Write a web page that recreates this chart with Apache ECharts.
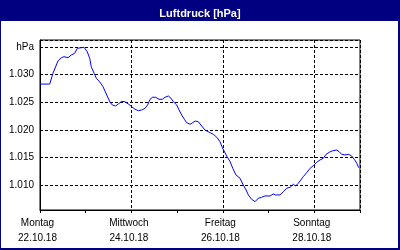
<!DOCTYPE html>
<html>
<head>
<meta charset="utf-8">
<script src="https://cdn.jsdelivr.net/npm/echarts@6/dist/echarts.min.js"></script>
<style>html,body{margin:0;padding:0;background:#000080}#c{width:400px;height:250px}</style>
</head>
<body>
<div id="c"></div>
<script>
const titleText = 'Luftdruck [hPa]';
const dayNames = ['Montag','Dienstag','Mittwoch','Donnerstag','Freitag','Samstag','Sonntag'];
const dayDates = ['22.10.18','23.10.18','24.10.18','25.10.18','26.10.18','27.10.18','28.10.18'];
const yUnitLabel = 'hPa';
// hours since Monday 22.10.18 00:00
const hours = [0,5.1,6.8,9.5,11.2,12.6,14.7,16.4,18.2,19.6,20.3,23.1,24.8,26.1,26.9,28.4,29.6,31.3,33.1,34.8,35.5,36.8,38.0,39.7,41.1,42.9,44.6,46.4,48.1,49.9,51.6,53.4,55.1,56.5,57.8,59.0,60.7,62.5,64.2,65.6,67.4,68.8,70.0,71.8,73.0,74.4,75.8,77.0,78.8,80.2,81.4,83.1,84.9,86.6,89.3,91.0,92.8,94.5,95.9,98.0,99.8,101.2,102.9,105.0,106.7,108.2,109.4,111.1,112.9,114.6,116.4,118.1,119.0,120.8,122.5,123.7,126.0,127.7,129.5,131.3,133.0,134.2,135.6,136.5,138.2,140.0,141.8,143.5,145.3,147.0,148.7,150.2,151.9,153.7,155.8,157.1,158.4,160.1,161.9,163.6,165.0,166.3,167.3];
const pressure = [1028.3,1028.3,1030.25,1032.52,1033.07,1033.25,1033.07,1033.55,1033.86,1034.77,1034.95,1034.95,1034.15,1032.96,1031.44,1030.25,1029.34,1028.73,1027.82,1026.5,1026.32,1025.0,1024.52,1024.33,1024.7,1025.18,1025.11,1024.7,1024.21,1023.74,1023.49,1023.61,1023.92,1024.52,1025.55,1025.91,1025.91,1025.55,1025.55,1025.91,1026.14,1025.73,1025.11,1024.52,1023.61,1022.71,1021.93,1021.32,1021.03,1021.32,1021.62,1021.5,1020.72,1020.0,1019.51,1019.22,1018.68,1017.88,1016.69,1015.3,1014.27,1013.07,1011.86,1011.27,1010.05,1009.15,1008.25,1007.47,1007.04,1007.65,1007.83,1008.07,1008.25,1008.07,1008.43,1008.25,1008.25,1008.84,1009.46,1009.64,1010.18,1009.87,1010.36,1010.65,1011.55,1012.28,1013.07,1013.54,1014.16,1014.57,1014.88,1015.6,1015.97,1016.25,1016.38,1016.07,1015.6,1015.48,1015.6,1015.3,1014.7,1013.98,1013.18];

const FONT = 'Liberation Sans';
const seriesData = hours.map((h, i) => [h, pressure[i]]);
const chart = echarts.init(document.getElementById('c'), null, {renderer: 'canvas'});
chart.setOption({
  backgroundColor: '#000080',
  animation: false,
  graphic: [
    {type: 'rect', z: -100, silent: true, shape: {x: 1, y: 21, width: 397, height: 227}, style: {fill: '#ffffff'}}
  ],
  title: {
    text: titleText, left: 'center', top: 3,
    textStyle: {color: '#ffffff', fontSize: 11, fontWeight: 'bold', fontFamily: FONT}
  },
  grid: {left: 40, right: 40, top: 40, bottom: 40, show: true, borderColor: '#000', borderWidth: 1, backgroundColor: 'transparent'},
  xAxis: [
    {
      type: 'value', min: 0, max: 168, interval: 24,
      axisLine: {lineStyle: {color: '#000', width: 1}},
      axisTick: {show: true, length: 3, lineStyle: {color: '#000'}},
      splitLine: {show: false},
      axisLabel: {
        color: '#000', fontSize: 10, fontFamily: FONT, margin: 6, lineHeight: 15,
        padding: [0, 5, 0, 0], showMaxLabel: true, showMinLabel: true,
        formatter: v => { const d = Math.round(v / 24); return (d % 2 === 0 && d < 7) ? dayNames[d] + '\n' + dayDates[d] : ''; }
      }
    },
    {
      type: 'value', min: 0, max: 168, interval: 48, position: 'bottom',
      axisLine: {show: false}, axisTick: {show: false}, axisLabel: {show: false},
      splitLine: {show: true, lineStyle: {color: '#000', width: 1, type: [3, 2]}}
    }
  ],
  yAxis: {
    type: 'value', min: 1005.53, max: 1036.27, splitNumber: 6,
    axisLine: {show: true, lineStyle: {color: '#000', width: 1}},
    axisTick: {show: false},
    splitLine: {show: true, lineStyle: {color: '#000', width: 1, type: [3, 2]}},
    axisLabel: {
      color: '#000', fontSize: 10, fontFamily: FONT, margin: 6,
      formatter: v => {
        const r = Math.round(v * 1000) / 1000;
        if (Math.abs(r % 5) > 0.001) return '';
        if (Math.round(r) === 1035) return yUnitLabel;
        return (r / 1000).toFixed(3);
      }
    }
  },
  series: [{
    type: 'line', xAxisIndex: 0, data: seriesData, showSymbol: false, symbol: 'none',
    lineStyle: {color: '#0000ff', width: 1}, z: 5
  }]
});
</script>
</body>
</html>
